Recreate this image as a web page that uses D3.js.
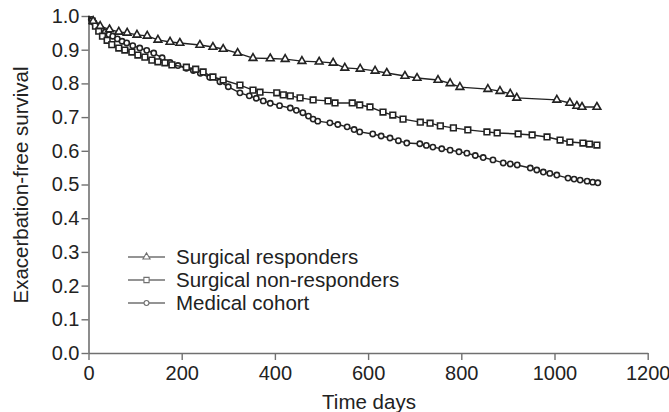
<!DOCTYPE html>
<html>
<head>
<meta charset="utf-8">
<script src="https://cdn.jsdelivr.net/npm/d3@7"></script>
<style>
    body { margin: 0; background: #fff; }
    text { font-family: "Liberation Sans", Arial, sans-serif; fill: #222; }
</style>
</head>
<body>
<svg id="chart" width="669" height="412"></svg>
<script>
// Surgical responders (triangles)
const responderDays = [0, 10, 25, 45, 65, 83, 104, 126, 149, 175, 196, 239, 267, 289, 320, 353, 390, 422, 458, 495, 525, 550, 583, 615, 640, 679, 705, 750, 776, 797, 857, 883, 905, 919, 1005, 1033, 1048, 1059, 1091];
const responderSurvival = [1.0, 0.985, 0.97, 0.96, 0.953, 0.95, 0.944, 0.941, 0.929, 0.923, 0.92, 0.914, 0.908, 0.902, 0.89, 0.875, 0.874, 0.872, 0.866, 0.864, 0.861, 0.846, 0.843, 0.837, 0.831, 0.822, 0.816, 0.81, 0.8, 0.789, 0.783, 0.777, 0.769, 0.757, 0.751, 0.742, 0.733, 0.73, 0.73];

// Surgical non-responders (squares)
const nonResponderDays = [0, 8, 15, 22, 30, 40, 50, 65, 78, 93, 106, 121, 136, 149, 164, 179, 210, 230, 246, 267, 289, 325, 353, 368, 404, 418, 433, 454, 482, 514, 529, 566, 582, 604, 632, 653, 675, 712, 733, 755, 783, 814, 855, 877, 922, 952, 984, 1012, 1033, 1061, 1075, 1091];
const nonResponderSurvival = [1.0, 0.985, 0.97, 0.955, 0.94, 0.928, 0.915, 0.905, 0.899, 0.893, 0.884, 0.878, 0.869, 0.864, 0.861, 0.855, 0.848, 0.842, 0.834, 0.819, 0.81, 0.795, 0.78, 0.774, 0.772, 0.766, 0.763, 0.757, 0.751, 0.748, 0.742, 0.742, 0.736, 0.73, 0.715, 0.706, 0.694, 0.685, 0.682, 0.674, 0.668, 0.662, 0.656, 0.653, 0.65, 0.647, 0.641, 0.632, 0.626, 0.623, 0.62, 0.617];

// Medical cohort (circles)
const medicalDays = [0, 6, 12, 20, 28, 36, 44, 52, 62, 72, 82, 95, 110, 125, 140, 158, 175, 192, 210, 225, 240, 260, 282, 300, 325, 345, 360, 375, 390, 410, 433, 446, 460, 472, 482, 492, 518, 535, 555, 570, 582, 610, 628, 647, 665, 683, 711, 725, 739, 758, 776, 795, 812, 830, 847, 868, 890, 905, 920, 948, 962, 976, 990, 1005, 1029, 1042, 1055, 1070, 1082, 1093];
const medicalSurvival = [1.0, 0.99, 0.98, 0.97, 0.96, 0.952, 0.945, 0.94, 0.932, 0.925, 0.92, 0.912, 0.905, 0.898, 0.89, 0.876, 0.862, 0.853, 0.845, 0.838, 0.83, 0.818, 0.805, 0.79, 0.772, 0.763, 0.756, 0.748, 0.741, 0.734, 0.727, 0.72, 0.713, 0.703, 0.694, 0.688, 0.683, 0.678, 0.671, 0.663, 0.656, 0.65, 0.644, 0.638, 0.63, 0.623, 0.621, 0.616, 0.611, 0.606, 0.602, 0.597, 0.593, 0.586, 0.58, 0.573, 0.564, 0.561, 0.558, 0.549, 0.543, 0.537, 0.533, 0.528, 0.519, 0.516, 0.513, 0.51, 0.507, 0.505];

const seriesNames = ['Surgical responders', 'Surgical non-responders', 'Medical cohort'];
const xTicks = [0, 200, 400, 600, 800, 1000, 1200];
const yTicks = [0, 0.1, 0.2, 0.3, 0.4, 0.5, 0.6, 0.7, 0.8, 0.9, 1.0];

const series = [
    { name: seriesNames[0], days: responderDays, values: responderSurvival, symbol: d3.symbolTriangle, size: 26 },
    { name: seriesNames[1], days: nonResponderDays, values: nonResponderSurvival, symbol: d3.symbolSquare, size: 32 },
    { name: seriesNames[2], days: medicalDays, values: medicalSurvival, symbol: d3.symbolCircle, size: 22 }
];

const axisColour = '#707070';
const inkColour = '#222';

const svg = d3.select('#chart');

const x = d3.scaleLinear().domain([0, 1200]).range([88.5, 647.7]);
const y = d3.scaleLinear().domain([0, 1]).range([353, 16]);

// axes
const xAxis = svg.append('g')
    .attr('transform', `translate(0, ${y(0)})`)
    .call(d3.axisBottom(x).tickValues(xTicks).tickFormat(d3.format('d')).tickSize(7).tickSizeOuter(0).tickPadding(6));

const yAxis = svg.append('g')
    .attr('transform', `translate(${x(0)}, 0)`)
    .call(d3.axisLeft(y).tickValues(yTicks).tickFormat(d3.format('.1f')).tickSize(7).tickSizeOuter(0).tickPadding(2));

[xAxis, yAxis].forEach(a => {
    a.select('.domain').attr('stroke', axisColour).attr('stroke-width', 1.6);
    a.selectAll('.tick line').attr('stroke', axisColour).attr('stroke-width', 1.4);
    a.selectAll('.tick text')
        .attr('fill', inkColour)
        .style('font-size', '20px')
        .style('font-family', '"Liberation Sans", Arial, sans-serif');
});

// axis titles
svg.append('text')
    .attr('x', 369)
    .attr('y', 409)
    .attr('text-anchor', 'middle')
    .style('font-size', '20.5px')
    .text('Time days');

svg.append('text')
    .attr('transform', `translate(28, 185) rotate(-90)`)
    .attr('text-anchor', 'middle')
    .style('font-size', '20.5px')
    .text('Exacerbation-free survival');

// curves
const line = d3.line()
    .x(d => x(d[0]))
    .y(d => y(d[1]));

function drawSeries(s) {
    const points = s.days.map((d, i) => [d, s.values[i]]);
    const g = svg.append('g').classed('series', true);

    g.append('path')
        .datum(points)
        .attr('d', line)
        .attr('fill', 'none')
        .attr('stroke', inkColour)
        .attr('stroke-width', 1.4);

    g.selectAll('path.marker')
        .data(points.slice(1))
        .join('path')
        .classed('marker', true)
        .attr('transform', d => `translate(${x(d[0])}, ${y(d[1])})`)
        .attr('d', d3.symbol().type(s.symbol).size(s.size))
        .attr('fill', '#fff')
        .attr('stroke', inkColour)
        .attr('stroke-width', 1.6);
}

series.slice().reverse().forEach(drawSeries);

// legend
const legendRows = [257, 280, 303];
const legend = svg.append('g');

series.forEach((s, i) => {
    const row = legend.append('g').attr('transform', `translate(128, ${legendRows[i]})`);
    row.append('line')
        .attr('x1', 0).attr('x2', 37)
        .attr('stroke', axisColour)
        .attr('stroke-width', 1.3);
    row.append('path')
        .attr('transform', 'translate(18.5, 0)')
        .attr('d', d3.symbol().type(s.symbol).size(s.size * 0.85))
        .attr('fill', '#fff')
        .attr('stroke', axisColour)
        .attr('stroke-width', 1.1);
    row.append('text')
        .attr('x', 48)
        .attr('y', 7)
        .style('font-size', '20.5px')
        .text(s.name);
});
</script>
</body>
</html>
